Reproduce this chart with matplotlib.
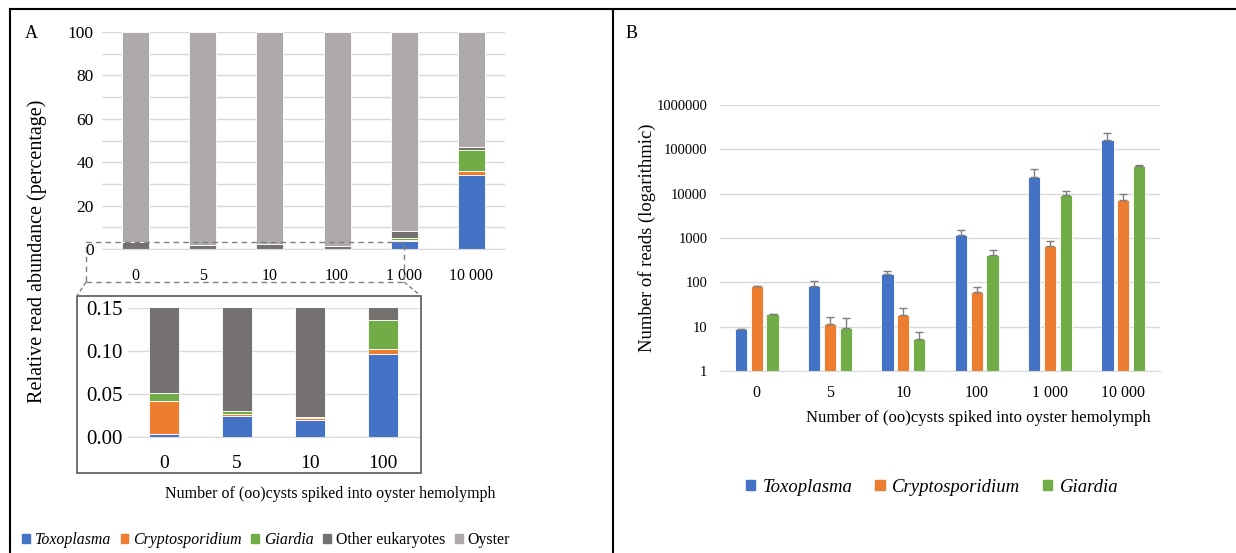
import matplotlib
matplotlib.use("Agg")
import matplotlib.pyplot as plt
from matplotlib.patches import Rectangle, Patch
from matplotlib.lines import Line2D
import numpy as np

plt.rcParams["font.family"] = ["Liberation Serif", "DejaVu Serif"]

# ---- data ----
spikes = ["0", "5", "10", "100", "1 000", "10 000"]

# panel A, relative abundance (%)
toxo_pct = [0.003, 0.024, 0.020, 0.097, 3.8, 34.2]
crypto_pct = [0.039, 0.003, 0.002, 0.005, 0.2, 1.7]
giardia_pct = [0.009, 0.003, 0.001, 0.034, 1.0, 9.5]
other_pct = [3.1, 1.8, 2.5, 1.3, 3.1, 1.7]

# panel B, number of reads and upper error
toxo_reads = [8.7, 81, 152, 1170, 24200, 160000]
toxo_err = [0.2, 24, 25, 310, 11800, 68000]
crypto_reads = [81, 11.7, 18, 59, 660, 7200]
crypto_err = [1, 5.1, 8.8, 18, 180, 2400]
giardia_reads = [19, 9.3, 5.4, 414, 9500, 43000]
giardia_err = [0.3, 6.6, 2.0, 113, 1800, 2000]

species = ["Toxoplasma", "Cryptosporidium", "Giardia", "Other eukaryotes", "Oyster"]
colors = ["#4472C4", "#ED7D31", "#70AD47", "#767171", "#AEAAAA"]
grid_col = "#D9D9D9"

W, H = 1236, 553


def fx(x):
    return x / W


def fy(y):
    return 1 - y / H


def box(l, t, r, b):
    return [fx(l), fy(b), fx(r) - fx(l), fy(t) - fy(b)]


def style_axis(ax):
    for s in ["top", "right", "left"]:
        ax.spines[s].set_visible(False)
    ax.spines["bottom"].set_color(grid_col)
    ax.tick_params(length=0)
    ax.set_axisbelow(True)
    ax.yaxis.grid(True, color=grid_col, lw=1)


def stacked(ax, n, width):
    x = np.arange(n)
    oyster = [100 - t - c - g - o for t, c, g, o in
              zip(toxo_pct, crypto_pct, giardia_pct, other_pct)]
    layers = [toxo_pct, crypto_pct, giardia_pct, other_pct, oyster]
    bottom = np.zeros(n)
    for vals, col in zip(layers, colors):
        v = np.array(vals[:n])
        ax.bar(x, v, width, bottom=bottom, color=col, edgecolor="white", lw=0.6)
        bottom += v
    ax.set_xlim(-0.5, n - 0.5)
    ax.set_xticks(x)
    ax.set_xticklabels(spikes[:n])


fig = plt.figure(figsize=(W / 100, H / 100), dpi=100)

# ---- panel A main ----
axA = fig.add_axes(box(102, 32, 505, 249))
style_axis(axA)
stacked(axA, 6, 0.40)
axA.set_ylim(0, 100)
axA.set_yticks(range(0, 101, 20))
axA.set_yticks(range(10, 100, 20), minor=True)
axA.yaxis.grid(True, which="minor", color=grid_col, lw=1)
axA.tick_params(which="both", length=0)
axA.tick_params(axis="x", labelsize=11.5, pad=14)
axA.tick_params(axis="y", labelsize=12.5, pad=6)

# ---- panel A inset ----
axI = fig.add_axes(box(128, 308, 419, 437))
style_axis(axI)
stacked(axI, 4, 0.41)
axI.set_ylim(0, 0.15)
axI.set_yticks([0, 0.05, 0.10, 0.15])
axI.set_yticklabels(["0.00", "0.05", "0.10", "0.15"])
axI.tick_params(axis="x", labelsize=14, pad=13)
axI.tick_params(axis="y", labelsize=15, pad=4)

# zoom box and connectors
fig.add_artist(Rectangle((fx(86), fy(282)), fx(404) - fx(86), fy(242) - fy(282),
                         transform=fig.transFigure, fill=False, ec="#7F7F7F",
                         ls=(0, (4, 3)), lw=1))
fig.add_artist(Rectangle((fx(77), fy(473)), fx(421) - fx(77), fy(296) - fy(473),
                         transform=fig.transFigure, fill=False, ec="#595959", lw=1.2))
for x0, x1 in [(86, 77), (404, 421)]:
    fig.add_artist(Line2D([fx(x0), fx(x1)], [fy(282), fy(296)], transform=fig.transFigure,
                          color="#7F7F7F", ls=(0, (3, 2)), lw=1))

fig.text(fx(37), fy(251), "Relative read abundance (percentage)", rotation=90,
         ha="center", va="center", fontsize=14.5)
fig.text(fx(330), fy(494), "Number of (oo)cysts spiked into oyster hemolymph",
         ha="center", va="center", fontsize=11.5)

handlesA = [Patch(color=c) for c in colors]
legA = fig.legend(handlesA, species, loc="center", bbox_to_anchor=(fx(266), fy(540)),
                  ncol=5, frameon=False, fontsize=11.4, handlelength=0.5, handleheight=0.5,
                  handletextpad=0.3, columnspacing=0.6)
for t in legA.get_texts()[:3]:
    t.set_style("italic")

# ---- panel B ----
axB = fig.add_axes(box(720, 105, 1160, 371))
style_axis(axB)
xb = np.arange(len(spikes))
bw, off = 0.168, 0.218
series = [(toxo_reads, toxo_err), (crypto_reads, crypto_err), (giardia_reads, giardia_err)]
for i, (vals, err) in enumerate(series):
    axB.bar(xb + (i - 1) * off, vals, bw, color=colors[i], edgecolor="white", lw=0.6,
            yerr=[np.zeros(len(err)), err], capsize=3,
            error_kw=dict(ecolor="#7F7F7F", elinewidth=1, capthick=1))
axB.set_yscale("log")
axB.set_ylim(1, 1e6)
axB.set_yticks([10 ** k for k in range(7)])
axB.set_yticklabels([str(10 ** k) for k in range(7)])
axB.yaxis.set_minor_locator(matplotlib.ticker.NullLocator())
axB.set_xlim(-0.5, len(spikes) - 0.5)
axB.set_xticks(xb)
axB.set_xticklabels(spikes)
axB.tick_params(axis="x", labelsize=11.5, pad=10)
axB.tick_params(axis="y", labelsize=10.5, pad=9)

fig.text(fx(647), fy(238), "Number of reads (logarithmic)", rotation=90,
         ha="center", va="center", fontsize=13.4)
fig.text(fx(978), fy(418), "Number of (oo)cysts spiked into oyster hemolymph",
         ha="center", va="center", fontsize=12)

legB = fig.legend([Patch(color=c) for c in colors[:3]], species[:3], loc="center",
                  bbox_to_anchor=(fx(932), fy(487)), ncol=3, frameon=False, fontsize=13.5,
                  handlelength=0.5, handleheight=0.5, handletextpad=0.4, columnspacing=1.2)
for t in legB.get_texts():
    t.set_style("italic")

# panel letters and frame
fig.text(fx(31), fy(33), "A", ha="center", va="center", fontsize=13)
fig.text(fx(632), fy(33), "B", ha="center", va="center", fontsize=13)
fig.add_artist(Line2D([fx(10), 1], [fy(9), fy(9)], transform=fig.transFigure, color="black", lw=1.5))
fig.add_artist(Line2D([fx(10), fx(10)], [fy(9), 0], transform=fig.transFigure, color="black", lw=1.5))
fig.add_artist(Line2D([fx(612.5), fx(612.5)], [fy(9), 0], transform=fig.transFigure, color="black", lw=1.5))

fig.savefig("out.png", dpi=100)
